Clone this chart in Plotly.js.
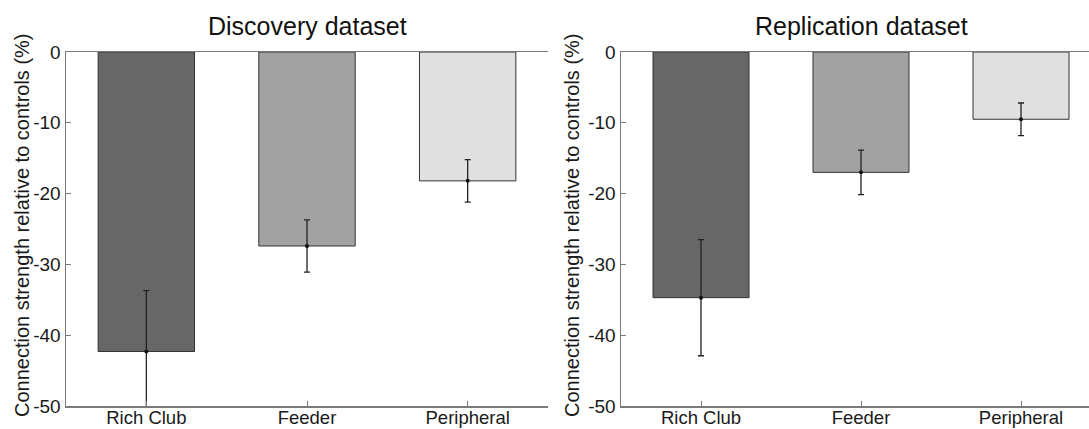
<!DOCTYPE html>
<html>
<head>
<meta charset="utf-8">
<script src="https://cdn.plot.ly/plotly-3.0.1.min.js"></script>
<style>html,body{margin:0;padding:0;background:#fff;overflow:hidden}</style>
</head>
<body>
<div id="chart" style="width:1089px;height:429px"></div>
<script>
const categories = ['Rich Club', 'Feeder', 'Peripheral'];
const discoveryValues = [-42.3, -27.4, -18.2];
const discoveryErrors = [8.6, 3.7, 3.0];
const replicationValues = [-34.7, -17.0, -9.5];
const replicationErrors = [8.2, 3.15, 2.3];
const yTickValues = [0, -10, -20, -30, -40, -50];
const yTickLabels = ['0', '-10', '-20', '-30', '-40', '-50'];
const panelTitles = ['Discovery dataset', 'Replication dataset'];
const yAxisTitle = 'Connection strength relative to controls (%)';
const barColors = ['#676767', '#a2a2a2', '#e0e0e0'];

const W = 1089, H = 429;
const font = 'Liberation Sans, Arial, sans-serif';
const axisColor = '#7a7a7a';

function barTrace(vals, xa, ya) {
  return {
    type: 'bar', x: categories, y: vals, xaxis: xa, yaxis: ya,
    width: 0.6,
    marker: {color: barColors, line: {color: '#333333', width: 1}},
    showlegend: false, hoverinfo: 'x+y'
  };
}
function errTrace(vals, errs, xa, ya) {
  return {
    type: 'scatter', mode: 'markers', x: categories, y: vals, xaxis: xa, yaxis: ya,
    marker: {color: '#111111', size: 4},
    error_y: {type: 'data', array: errs, visible: true, color: '#222222', thickness: 1.3, width: 3},
    showlegend: false, hoverinfo: 'skip'
  };
}

const yDomain = [(H - 406) / H, (H - 52) / H];
const x1Domain = [66 / W, 548 / W];
const x2Domain = [621 / W, 1];

function xAxis(domain, range, anchor) {
  return {
    domain: domain, range: range, anchor: anchor, type: 'category',
    showline: true, linecolor: axisColor, linewidth: 1.5, mirror: true,
    ticks: 'inside', ticklen: 5, tickcolor: axisColor, tickwidth: 1,
    showgrid: false, zeroline: false, ticklabelstandoff: -6,
    tickfont: {family: font, size: 18.5, color: '#1a1a1a'}
  };
}
function yAxis(anchor) {
  return {
    domain: yDomain, range: [-50, 0], anchor: anchor,
    showline: true, linecolor: axisColor, linewidth: 1.5,
    ticks: 'inside', ticklen: 5, tickcolor: axisColor, tickwidth: 1,
    tickvals: yTickValues, ticktext: yTickLabels,
    showgrid: false, zeroline: false,
    tickfont: {family: font, size: 19, color: '#1a1a1a'}
  };
}

const data = [
  barTrace(discoveryValues, 'x', 'y'),
  errTrace(discoveryValues, discoveryErrors, 'x', 'y'),
  barTrace(replicationValues, 'x2', 'y2'),
  errTrace(replicationValues, replicationErrors, 'x2', 'y2')
];

const yTitleMid = (H - 225) / H;
const layout = {
  width: W, height: H,
  margin: {l: 0, r: 0, t: 0, b: 0},
  paper_bgcolor: '#ffffff', plot_bgcolor: '#ffffff',
  showlegend: false,
  xaxis: xAxis(x1Domain, [-0.5, 2.5], 'y'),
  yaxis: yAxis('x'),
  xaxis2: xAxis(x2Domain, [-0.5, 2.425], 'y2'),
  yaxis2: yAxis('x2'),
  annotations: [
    {text: panelTitles[0], xref: 'x', yref: 'paper', x: 1, y: (H - 42) / H,
     xanchor: 'center', yanchor: 'bottom', showarrow: false,
     font: {family: font, size: 25, color: '#111111'}},
    {text: panelTitles[1], xref: 'x2', yref: 'paper', x: 1, y: (H - 42) / H,
     xanchor: 'center', yanchor: 'bottom', showarrow: false,
     font: {family: font, size: 25, color: '#111111'}},
    {text: yAxisTitle, xref: 'paper', yref: 'paper', x: 22 / W, y: yTitleMid,
     xanchor: 'center', yanchor: 'middle', textangle: -90, showarrow: false,
     font: {family: font, size: 20, color: '#1a1a1a'}},
    {text: yAxisTitle, xref: 'paper', yref: 'paper', x: 572 / W, y: yTitleMid,
     xanchor: 'center', yanchor: 'middle', textangle: -90, showarrow: false,
     font: {family: font, size: 20, color: '#1a1a1a'}}
  ]
};

Plotly.newPlot('chart', data, layout, {displayModeBar: false, staticPlot: true});
</script>
</body>
</html>
